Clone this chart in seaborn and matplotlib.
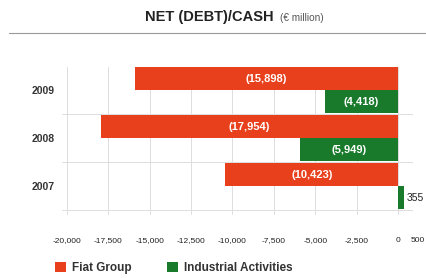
import matplotlib
matplotlib.use("Agg")
import matplotlib.pyplot as plt
import matplotlib.transforms as mtransforms
import seaborn as sns
import pandas as pd
from matplotlib.patches import Patch
from matplotlib.lines import Line2D

years = ["2009", "2008", "2007"]
fiat_group = [-15898, -17954, -10423]
industrial = [-4418, -5949, 355]
series = ["Fiat Group", "Industrial Activities"]
xticks = [-20000, -17500, -15000, -12500, -10000, -7500, -5000, -2500, 0, 500]

df = pd.DataFrame({
    "year": years * 2,
    "value": fiat_group + industrial,
    "series": [series[0]] * 3 + [series[1]] * 3,
})

colors = {"Fiat Group": "#e8401c", "Industrial Activities": "#197a2b"}

sns.set_theme(style="white")
plt.rcParams["font.family"] = ["Liberation Sans", "DejaVu Sans"]

fig = plt.figure(figsize=(4.27, 2.78), dpi=100)
ax = fig.add_axes([0.145, 0.187, 0.822, 0.615])

sns.barplot(data=df, x="value", y="year", hue="series", order=years,
            hue_order=series, palette=colors, orient="h", width=0.96,
            saturation=1, ax=ax, legend=False, edgecolor="none", zorder=3)

ax.set_xlim(-20300, 900)
ax.set_ylim(2.83, -0.73)
ax.set_xticks(xticks)
ax.set_xticklabels([f"{t:,}" for t in xticks], fontsize=6.0, color="#222222")
ax.tick_params(axis="x", length=0, pad=8)
ax.tick_params(axis="y", length=0, pad=5)
xl = ax.get_xticklabels()
xl[-1].set_horizontalalignment("left")
xl[-1].set_transform(xl[-1].get_transform() +
                     mtransforms.ScaledTranslation(4 / 100, 0, fig.dpi_scale_trans))
for lbl in ax.get_yticklabels():
    lbl.set_fontsize(7.5)
    lbl.set_fontweight("bold")
    lbl.set_color("#333333")
ax.set_xlabel("")
ax.set_ylabel("")
for s in ax.spines.values():
    s.set_visible(False)
for t in xticks[:-1]:
    ax.axvline(t, ymin=0.07, ymax=0.93, color="#dddddd", lw=0.7, zorder=0)
for yv in [0.5, 1.5, 2.5]:
    ax.axhline(yv, color="#dddddd", lw=0.7, zorder=0)

# labels
for cont in ax.containers:
    for bar in cont:
        w = bar.get_width()
        x0 = bar.get_x()
        yc = bar.get_y() + bar.get_height() / 2
        if w < 0:
            ax.text(x0 + w / 2, yc, f"({abs(w):,.0f})", ha="center", va="center",
                    color="white", fontsize=8, fontweight="bold", zorder=5)
        else:
            ax.text(x0 + w + 150, yc, f"{w:,.0f}", ha="left", va="center",
                    color="#222222", fontsize=7.5, zorder=5, clip_on=False)

# title
fig.text(0.64, 0.938, "NET (DEBT)/CASH", ha="right", va="center",
         fontsize=10.5, fontweight="bold", color="#222222")
fig.text(0.655, 0.934, "(€ million)", ha="left", va="center",
         fontsize=7.2, color="#555555")
fig.add_artist(Line2D([0.02, 1.0], [0.88, 0.88], color="#999999", lw=0.8,
                      transform=fig.transFigure))

handles = [Patch(facecolor=colors[s], edgecolor="none") for s in series]
leg = fig.legend(handles, series, loc="center left", bbox_to_anchor=(0.105, 0.035),
                 ncol=2, frameon=False, fontsize=8.5, handlelength=0.9,
                 handleheight=0.9, columnspacing=3.0, handletextpad=0.5)
for t in leg.get_texts():
    t.set_fontweight("bold")
    t.set_color("#333333")

fig.savefig("out.png", dpi=100, facecolor="white")
